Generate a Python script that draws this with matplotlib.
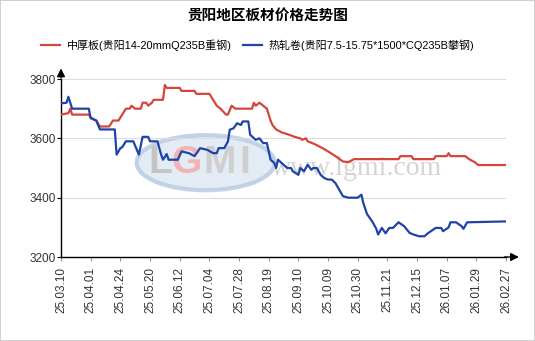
#!/usr/bin/env python3
import matplotlib
matplotlib.use("Agg")
import matplotlib.pyplot as plt
from matplotlib.patches import Ellipse, Rectangle

plt.rcParams['font.family'] = ['Liberation Sans', 'Noto Sans CJK SC', 'DejaVu Sans']

# trading-day index (0 = 25.03.10) and price, yuan/ton
plate_day = [0, 4, 5, 6, 15, 16, 19, 21, 26, 28, 31, 32, 33, 35, 37, 38, 40, 43, 44, 46,
             47, 49, 50, 55, 56, 57, 64, 65, 72, 73, 80, 82, 84, 86, 89, 90, 92, 94, 103, 104,
             105, 107, 109, 111, 113, 114, 116, 119, 124, 126, 129, 130, 132, 133, 137, 141, 144, 148, 152, 155,
             158, 182, 183, 189, 190, 201, 202, 208, 209, 210, 218, 220, 223, 225, 240]
plate_price = [3680, 3685, 3700, 3680, 3680, 3670, 3660, 3640, 3640, 3660, 3660, 3670, 3680, 3700, 3700, 3710, 3700, 3700, 3720, 3720,
               3710, 3720, 3730, 3730, 3780, 3770, 3770, 3760, 3760, 3750, 3750, 3730, 3710, 3700, 3680, 3680, 3710, 3700, 3700, 3720,
               3710, 3720, 3710, 3700, 3660, 3645, 3630, 3620, 3610, 3605, 3600, 3595, 3600, 3590, 3580, 3567, 3556, 3540, 3522, 3520,
               3530, 3530, 3540, 3540, 3530, 3530, 3540, 3540, 3550, 3540, 3540, 3530, 3520, 3510, 3510]

coil_day = [0, 3, 4, 6, 15, 16, 19, 21, 29, 30, 32, 33, 35, 39, 42, 44, 47, 48, 52, 54,
            55, 57, 58, 63, 65, 69, 72, 75, 79, 82, 84, 85, 88, 90, 91, 93, 95, 97, 98, 101,
            102, 105, 107, 109, 111, 113, 115, 116, 117, 120, 122, 124, 125, 128, 129, 131, 133, 135, 136, 138,
            140, 142, 144, 146, 148, 150, 152, 155, 160, 162, 163, 165, 168, 170, 171, 173, 175, 177, 179, 182,
            185, 188, 190, 193, 196, 198, 199, 202, 205, 206, 209, 210, 213, 216, 217, 219, 240]
coil_price = [3718, 3720, 3740, 3700, 3700, 3668, 3660, 3630, 3630, 3545, 3567, 3570, 3590, 3590, 3545, 3605, 3605, 3590, 3590, 3545,
              3528, 3547, 3528, 3528, 3556, 3550, 3540, 3567, 3561, 3550, 3550, 3567, 3567, 3589, 3629, 3634, 3651, 3645, 3657, 3657,
              3612, 3595, 3600, 3584, 3584, 3528, 3517, 3500, 3528, 3511, 3500, 3500, 3489, 3477, 3500, 3489, 3511, 3494, 3500, 3500,
              3477, 3466, 3461, 3461, 3449, 3427, 3405, 3400, 3400, 3410, 3382, 3345, 3318, 3295, 3276, 3298, 3280, 3298, 3298, 3317,
              3304, 3281, 3276, 3270, 3270, 3281, 3285, 3298, 3298, 3287, 3300, 3317, 3317, 3304, 3295, 3317, 3320]

date_labels = ['25.03.10', '25.04.01', '25.04.24', '25.05.20', '25.06.12', '25.07.04', '25.07.28', '25.08.19',
               '25.09.10', '25.10.09', '25.10.30', '25.11.21', '25.12.15', '26.01.07', '26.01.29', '26.02.27']
label_day = [i * 16 for i in range(len(date_labels))]

plate_name = '中厚板(贵阳14-20mmQ235B重钢)'
coil_name = '热轧卷(贵阳7.5-15.75*1500*CQ235B攀钢)'

red = '#d4453c'
blue = '#1f43a6'

fig = plt.figure(figsize=(5.35, 3.41), dpi=100)
fig.patches.append(Rectangle((0, 0), 1, 1, transform=fig.transFigure, fill=False,
                             edgecolor='#c8c8c8', lw=1.2))
ax = fig.add_axes([0.114, 0.2463, 0.832, 0.522])

# watermark: logo ellipse, letters and site address
ax.add_patch(Ellipse((0.325, 0.53), 0.31, 0.31, transform=ax.transAxes, facecolor='#dde7f3',
                     edgecolor='#b7c9e2', lw=3, alpha=0.8, zorder=0))
for letter, xpos, col in [('L', 0.222, '#c4c4c4'), ('G', 0.283, '#f2b3b3'),
                          ('M', 0.357, '#cfcfcf'), ('I', 0.412, '#cfcfcf')]:
    ax.text(xpos, 0.53, letter, transform=ax.transAxes, fontsize=28, fontweight='bold',
            color=col, ha='center', va='center', zorder=0)
ax.text(0.665, 0.5, 'www.lgmi.com', transform=ax.transAxes, fontsize=20, family='Liberation Serif',
        color='#d4d4d4', ha='center', va='center', zorder=0)

ax.plot(plate_day, plate_price, color=red, lw=1.6, label=plate_name, zorder=3)
ax.plot(coil_day, coil_price, color=blue, lw=1.6, label=coil_name, zorder=3)

ax.set_xlim(0, 240)
ax.set_ylim(3200, 3800)
ax.set_yticks([3200, 3400, 3600, 3800])
ax.set_xticks(label_day)
ax.set_xticklabels(date_labels, rotation=90, fontsize=8.5, color='#333333')
ax.tick_params(axis='y', labelsize=8.5, length=3, width=0.8, pad=1, labelcolor='#333333')
ax.tick_params(axis='x', length=3, width=0.8, pad=4, color='#999999')
ax.grid(axis='y', color='#dcdcdc', lw=0.8)
ax.set_axisbelow(True)
for side in ['top', 'right']:
    ax.spines[side].set_visible(False)
for side in ['left', 'bottom']:
    ax.spines[side].set_linewidth(1)

# arrow heads on both axes
ax.annotate('', xy=(1.035, 0), xytext=(0.99, 0), xycoords='axes fraction',
            arrowprops=dict(arrowstyle='-|>', color='black', lw=1, mutation_scale=12), annotation_clip=False)
ax.annotate('', xy=(0, 1.075), xytext=(0, 0.99), xycoords='axes fraction',
            arrowprops=dict(arrowstyle='-|>', color='black', lw=1, mutation_scale=12), annotation_clip=False)

fig.text(0.5, 0.955, '贵阳地区板材价格走势图', ha='center', va='center', fontsize=10.5,
         fontweight='bold', family=['Noto Sans CJK SC'])
fig.legend(loc='center', bbox_to_anchor=(0.482, 0.868), ncol=2, frameon=False, fontsize=7.9,
           handlelength=1.75, handletextpad=0.6, columnspacing=1.0)

fig.savefig('out.png', dpi=100)
